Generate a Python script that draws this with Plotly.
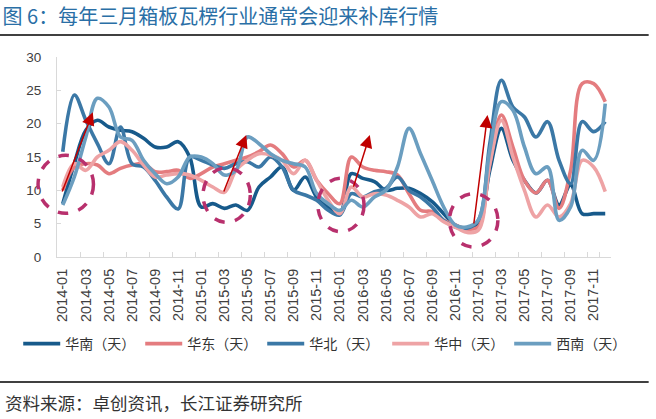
import plotly.graph_objects as go

months = [f"{y}-{m:02d}" for y in range(2014, 2018) for m in range(1, 13)]
tick_labels = months[::2]

huanan = [8, 14, 19, 20.5, 19.5, 19, 18.8, 17.8, 16.5, 16.5, 17.3, 15,
          7.5, 8, 7.3, 7.8, 7, 10.5, 12, 13.5, 10, 12, 9, 7.5,
          6.5, 12.5, 11.8, 11.3, 10, 10.3, 10.3, 9.5, 8.3, 6.5, 4.8, 4.3,
          5, 13, 19.3, 14.5, 11.5, 9.6, 11.5, 7.8, 10.8, 6.5, 6.5, 6.5]
huadong = [10, 13.5, 14, 13.8, 12.5, 13.3, 13.8, 14, 12.8, 12.8, 13, 11.8,
           12.5, 13.5, 14, 14.5, 15, 15.8, 16.8, 15.5, 13.5, 14.5, 11.5, 9.5,
           8, 15, 13.5, 13, 12.8, 12.3, 9.5, 7, 6.8, 5.5, 4.8, 4.2,
           4.5, 14, 21.3, 16.5, 11.5, 9.6, 11.5, 7.3, 13, 26, 26, 23.3]
huabei = [15.8, 24.3, 20.5, 17, 14, 19.5, 14, 13.5, 11.5, 9, 7.2, 15,
          14.5, 13.8, 13.3, 14, 14.3, 13.5, 15, 13.5, 10, 9.3, 8.5, 7,
          6.3, 9.5, 9, 9.8, 10.3, 12, 10, 9, 7.5, 5.5, 4.5, 4.3,
          5.5, 17, 26.5, 22.5, 21, 18, 20.3, 14.5, 11, 20.3, 18.8, 20.3]
huazhong = [10.5, 14, 13, 15, 16, 17.3, 16, 13.8, 12, 12.3, 12.5, 12.3,
            11.5, 10.5, 9.7, 13, 14.5, 15.5, 15.3, 14.5, 12.5, 14.5, 11.5, 8.5,
            6.5, 10.5, 9, 9.5, 9.3, 8.5, 7.5, 6, 6.5, 5.3, 4.5, 3.7,
            4, 14, 20.5, 15, 10, 6, 7.8, 6, 8, 14.5, 13.5, 9.8]
xinan = [7.8, 12, 18, 23.8, 22.5, 18, 17.5, 14.5, 12.5, 11, 12, 15,
         15, 14, 12.3, 13, 18, 17, 15.5, 14.5, 14, 13.5, 9.5, 8,
         7, 8.5, 7.5, 9, 10, 13.5, 19.3, 15.5, 11.5, 7.5, 4.8, 4.5,
         5.5, 16, 23.3, 22, 16.5, 12.5, 13.5, 5.5, 7.5, 16, 14.5, 23]

series = [
    ("华南（天）", huanan, "#175a8b", "legend"),
    ("华东（天）", huadong, "#e47c7f", "legend"),
    ("华北（天）", huabei, "#3b78a6", "legend"),
    ("华中（天）", huazhong, "#eea3a5", "legend2"),
    ("西南（天）", xinan, "#6b9ec0", "legend2"),
]

# arrows: (tail month idx, tail value, head month idx, head value)
arrows = [(-0.1, 9.6, 2.6, 21.7), (13.9, 9.6, 15.9, 18.3),
          (25.15, 10.3, 26.6, 18.3), (35.6, 4.8, 36.8, 21.3)]
# circles: (center month idx, center value, half-width months, half-height value)
circles = [(0.26, 10.9, 2.4, 4.35), (14.2, 9.3, 2.05, 4.1),
           (24.1, 7.8, 2.0, 4.0), (35.6, 5.5, 2.1, 4.0)]

fig = go.Figure()
for name, vals, col, lg in series:
    fig.add_trace(go.Scatter(x=months, y=vals, name=name, mode="lines", legend=lg,
                             line=dict(color=col, width=3.6, shape="spline", smoothing=1)))

N = len(months)
def px_x(i):
    return (i + 0.5) / N
def px_y(v):
    return v / 30.0

shapes = []
for cx, cy, rx, ry in circles:
    shapes.append(dict(type="circle", xref="paper", yref="paper",
                       x0=px_x(cx - rx), x1=px_x(cx + rx),
                       y0=px_y(cy - ry), y1=px_y(cy + ry),
                       line=dict(color="#b8306d", width=3.5, dash="dash")))
shapes.append(dict(type="line", xref="paper", yref="paper", x0=-0.103, x1=1.068,
                   y0=1.11, y1=1.11, line=dict(color="#000000", width=1.5)))
shapes.append(dict(type="line", xref="paper", yref="paper", x0=-0.103, x1=1.068,
                   y0=-0.625, y1=-0.625, line=dict(color="#000000", width=1.5)))

annotations = []
for tx, ty, hx, hy in arrows:
    annotations.append(dict(x=hx, y=hy, ax=tx, ay=ty, xref="x", yref="y",
                            axref="x", ayref="y", showarrow=True, text="",
                            arrowhead=2, arrowsize=1.7, arrowwidth=1.5,
                            arrowcolor="#c00000"))
annotations.append(dict(text="资料来源：卓创资讯，长江证券研究所", xref="paper", yref="paper",
                        x=-0.098, y=-0.725, xanchor="left", yanchor="middle",
                        showarrow=False,
                        font=dict(family="Noto Sans CJK SC", size=17.5, color="#333333")))

legend_common = dict(orientation="h", y=-0.435, xanchor="left", yanchor="middle",
                     entrywidth=70, entrywidthmode="pixels", itemwidth=37,
                     font=dict(family="Noto Sans CJK SC", size=14, color="#333333"),
                     bgcolor="rgba(0,0,0,0)")

fig.update_layout(
    width=656, height=419,
    margin=dict(l=57, r=45, t=57, b=162),
    paper_bgcolor="white", plot_bgcolor="white",
    title=dict(text="图 6：每年三月箱板瓦楞行业通常会迎来补库行情",
               x=0.004, xanchor="left", xref="container",
               y=1 - 17 / 419, yanchor="middle", yref="container",
               font=dict(family="Noto Sans CJK SC", size=20, color="#2a6fa6")),
    showlegend=True,
    legend=dict(x=-0.07, **legend_common),
    legend2=dict(x=0.596, **legend_common),
    shapes=shapes, annotations=annotations,
    xaxis=dict(type="category", categoryorder="array", categoryarray=months,
               range=[-0.5, N - 0.5], tickvals=tick_labels, ticktext=tick_labels,
               tickangle=-90, ticks="inside", ticklen=5, tickcolor="#d9d9d9",
               tickson="boundaries", showline=True, linecolor="#d9d9d9", linewidth=1,
               showgrid=False, zeroline=False, ticklabelstandoff=5,
               tickfont=dict(family="Liberation Sans", size=14.5, color="#404040")),
    yaxis=dict(range=[0, 30], dtick=5, tick0=0, ticks="inside", ticklen=4,
               tickcolor="#d9d9d9", showline=True, linecolor="#d9d9d9", linewidth=1,
               showgrid=False, zeroline=False, ticklabelstandoff=12,
               tickfont=dict(family="Liberation Sans", size=13.5, color="#404040")),
)

fig.write_html("out.html", config={"displayModeBar": False},
               post_script="document.body.style.margin='0px';document.body.style.overflow='hidden';")
